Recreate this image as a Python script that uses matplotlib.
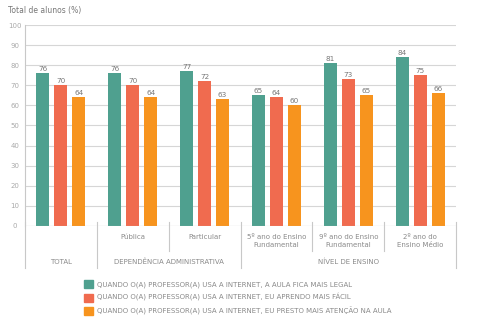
import numpy as np
import matplotlib.pyplot as plt
from matplotlib.patches import Patch

# ------------------------------------------------------------------ DATA
categories = ['', 'Pública', 'Particular',
              '5º ano do Ensino\nFundamental',
              '9º ano do Ensino\nFundamental',
              '2º ano do\nEnsino Médio']
legal = [76, 76, 77, 65, 81, 84]
facil = [70, 70, 72, 64, 73, 75]
atencao = [64, 64, 63, 60, 65, 66]
series_names = [
    'QUANDO O(A) PROFESSOR(A) USA A INTERNET, A AULA FICA MAIS LEGAL',
    'QUANDO O(A) PROFESSOR(A) USA A INTERNET, EU APRENDO MAIS FÁCIL',
    'QUANDO O(A) PROFESSOR(A) USA A INTERNET, EU PRESTO MAIS ATENÇÃO NA AULA',
]
group_names = ['TOTAL', 'DEPENDÊNCIA ADMINISTRATIVA', 'NÍVEL DE ENSINO']
group_spans = [(0, 0), (1, 2), (3, 5)]

# ------------------------------------------------------------------ STYLE
colors = ['#4fa08f', '#f06b4f', '#f7941e']
txt_gray = '#8a8a8a'
grid_gray = '#d6d6d6'
line_gray = '#c8c8c8'

fig = plt.figure(figsize=(4.98, 3.27), dpi=100)
ax = fig.add_axes([0.050, 0.309, 0.866, 0.6145])

x = np.arange(len(categories))
w = 0.18
off = 0.25
for i, vals in enumerate([legal, facil, atencao]):
    bars = ax.bar(x + (i - 1) * off, vals, width=w, color=colors[i], zorder=3)
    ax.bar_label(bars, padding=1, fontsize=5.2, color='#777777')

ax.set_xlim(-0.5, len(categories) - 0.5)
ax.set_ylim(0, 100)
ax.set_yticks(range(0, 101, 10))
ax.tick_params(axis='y', length=0, labelsize=5, labelcolor='#aaaaaa', pad=7)
for t in ax.get_yticklabels():
    t.set_horizontalalignment('center')
ax.tick_params(axis='x', length=0, labelbottom=False)
ax.grid(axis='y', color=grid_gray, lw=0.8, zorder=0)
for s in ['top', 'right', 'bottom']:
    ax.spines[s].set_visible(False)
ax.spines['left'].set_color(line_gray)
ax.spines['left'].set_linewidth(0.8)
ax.axhline(0, color=line_gray, lw=0.8, zorder=4)

# --- divider lines and labels below the axis
trans = ax.get_xaxis_transform()
full = [-0.5] + [b + 0.5 for a, b in group_spans]
short = [c + 0.5 for a, b in group_spans for c in range(a, b)]
for xv in full:
    ax.plot([xv, xv], [0.02, -0.21], transform=trans, color=line_gray,
            lw=0.8, clip_on=False)
for xv in short:
    ax.plot([xv, xv], [0.02, -0.125], transform=trans, color=line_gray,
            lw=0.8, clip_on=False)

for xi, lab in zip(x, categories):
    ax.text(xi, -0.04, lab, transform=trans, ha='center', va='top',
            fontsize=5, color=txt_gray, linespacing=1.5)
for name, (a, b) in zip(group_names, group_spans):
    ax.text((a + b) / 2, -0.18, name, transform=trans, ha='center',
            va='center', fontsize=5, color=txt_gray)

fig.text(0.016, 0.983, 'Total de alunos (%)', fontsize=5.5, color='#777777',
         ha='left', va='top')

handles = [Patch(color=c) for c in colors]
fig.legend(handles, series_names, loc='upper left',
           bbox_to_anchor=(0.168, 0.143), frameon=False, fontsize=5.0,
           labelcolor=txt_gray, handlelength=1.4, handleheight=1.4,
           handletextpad=0.5, labelspacing=0.75, borderpad=0, borderaxespad=0)

fig.savefig('out.png', dpi=100, facecolor='white')
